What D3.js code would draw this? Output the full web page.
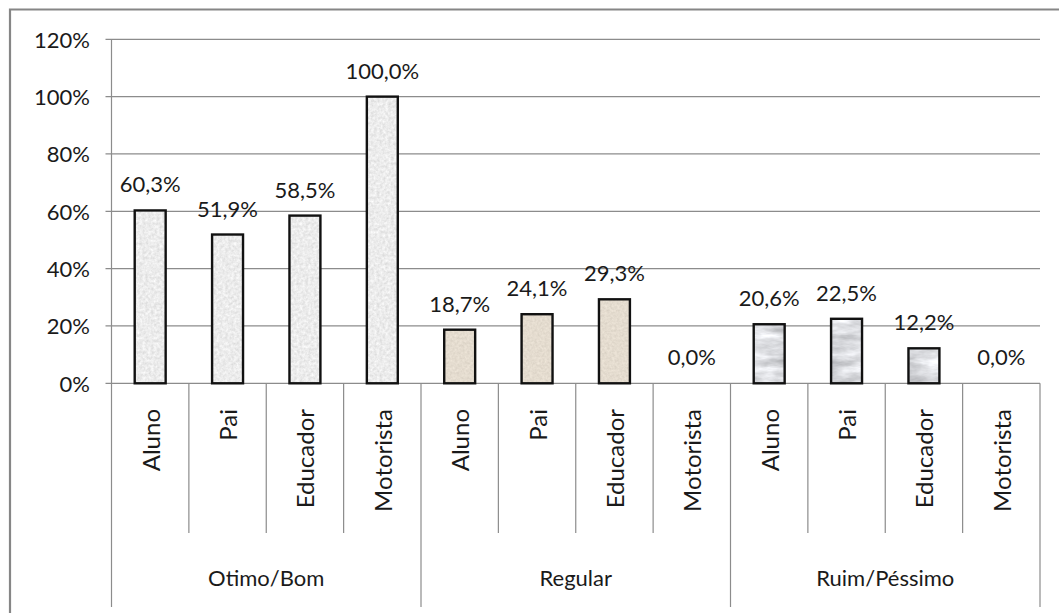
<!DOCTYPE html>
<html>
<head>
<meta charset="utf-8">
<script src="https://cdn.jsdelivr.net/npm/d3@7"></script>
<style>
  html, body { margin: 0; padding: 0; background: #fff; }
  svg { display: block; }
  text { font-family: "Lato", "Noto Sans", sans-serif; fill: #1a1a1a; }
</style>
</head>
<body>
<svg id="chart" width="1059" height="613"></svg>
<script>
// Avaliação por grupo de respondentes
const groups = ["Otimo/Bom", "Regular", "Ruim/Péssimo"];
const roles = ["Aluno", "Pai", "Educador", "Motorista"];
const otimoBom = [60.3, 51.9, 58.5, 100.0];
const regular = [18.7, 24.1, 29.3, 0.0];
const ruimPessimo = [20.6, 22.5, 12.2, 0.0];
const yTicks = [0, 20, 40, 60, 80, 100, 120];

const seriesValues = [otimoBom, regular, ruimPessimo];
const textures = ["tex-granite", "tex-sand", "tex-marble"];

const rows = [];
groups.forEach((g, gi) => {
  roles.forEach((r, ri) => {
    rows.push({ key: g + "|" + r, group: g, role: r, value: seriesValues[gi][ri], tex: textures[gi] });
  });
});

const svg = d3.select("#chart");
const plot = { left: 111.5, right: 1040, top: 39.3, bottom: 383.3 };

const x = d3.scaleBand().domain(rows.map(d => d.key)).range([plot.left, plot.right]).padding(0);
const y = d3.scaleLinear().domain([0, 120]).range([plot.bottom, plot.top]);
const fmt = v => d3.format(".1f")(v).replace(".", ",") + "%";

// Bar fill textures
const defs = svg.append("defs");
function texture(id, freq, octaves, seed, base, amp) {
  const f = defs.append("filter").attr("id", id)
    .attr("x", 0).attr("y", 0).attr("width", 1).attr("height", 1)
    .attr("color-interpolation-filters", "sRGB");
  f.append("feTurbulence").attr("type", "fractalNoise")
    .attr("baseFrequency", freq).attr("numOctaves", octaves).attr("seed", seed).attr("result", "noise");
  const m = [
    amp, 0, 0, 0, base[0] - amp * 0.5,
    amp, 0, 0, 0, base[1] - amp * 0.5,
    amp, 0, 0, 0, base[2] - amp * 0.5,
    0, 0, 0, 0, 1
  ];
  f.append("feColorMatrix").attr("type", "matrix").attr("values", m.join(" ")).attr("result", "tint");
  f.append("feComposite").attr("in", "tint").attr("in2", "SourceGraphic").attr("operator", "in");
}
texture("tex-granite", 0.35, 3, 4, [0.925, 0.925, 0.925], 0.18);
texture("tex-sand", 0.4, 2, 7, [0.895, 0.862, 0.812], 0.12);
texture("tex-marble", "0.04 0.12", 4, 11, [0.86, 0.865, 0.88], 0.4);

// Outer frame
svg.append("path")
  .attr("d", `M10,613 V9.5 H1059`)
  .attr("fill", "none").attr("stroke", "#868686").attr("stroke-width", 2.2);

// Gridlines and y ticks
svg.append("g").selectAll("line").data(yTicks).join("line")
  .attr("x1", plot.left - 6).attr("x2", plot.right)
  .attr("y1", d => y(d)).attr("y2", d => y(d))
  .attr("stroke", "#8c8c8c").attr("stroke-width", 1.2);

svg.append("g").selectAll("text").data(yTicks).join("text")
  .attr("x", 90).attr("y", d => y(d))
  .attr("text-anchor", "end").attr("dominant-baseline", "central")
  .attr("font-size", 22)
  .text(d => d + "%");

// Y axis line
svg.append("line")
  .attr("x1", plot.left).attr("x2", plot.left)
  .attr("y1", plot.top).attr("y2", plot.bottom)
  .attr("stroke", "#8c8c8c").attr("stroke-width", 1.2);

// Category separators: short between roles, long between groups
const seps = [];
rows.forEach((d, i) => {
  const isGroupEdge = i % roles.length === 0;
  seps.push({ x: x(d.key), long: isGroupEdge });
});
seps.push({ x: plot.right, long: true });
svg.append("g").selectAll("line").data(seps).join("line")
  .attr("x1", d => d.x).attr("x2", d => d.x)
  .attr("y1", plot.bottom).attr("y2", d => d.long ? 607 : 533)
  .attr("stroke", "#8c8c8c").attr("stroke-width", 1.2);

// Bars
const barW = x.bandwidth() * 0.4;
const bars = svg.append("g").selectAll("g").data(rows.filter(d => d.value > 0)).join("g");
bars.append("rect")
  .attr("x", d => x(d.key) + (x.bandwidth() - barW) / 2)
  .attr("y", d => y(d.value))
  .attr("width", barW)
  .attr("height", d => y(0) - y(d.value))
  .attr("fill", "#000")
  .attr("filter", d => `url(#${d.tex})`);
bars.append("rect")
  .attr("x", d => x(d.key) + (x.bandwidth() - barW) / 2)
  .attr("y", d => y(d.value))
  .attr("width", barW)
  .attr("height", d => y(0) - y(d.value))
  .attr("fill", "none").attr("stroke", "#111").attr("stroke-width", 2.4);

// Value labels
svg.append("g").selectAll("text").data(rows).join("text")
  .attr("x", d => x(d.key) + x.bandwidth() / 2)
  .attr("y", d => y(d.value) - 18)
  .attr("text-anchor", "middle")
  .attr("font-size", 22)
  .text(d => fmt(d.value));

// Role labels (rotated)
svg.append("g").selectAll("text").data(rows).join("text")
  .attr("transform", d => `translate(${x(d.key) + x.bandwidth() / 2},409) rotate(-90)`)
  .attr("text-anchor", "end").attr("dominant-baseline", "central")
  .attr("font-size", 24)
  .text(d => d.role);

// Group labels
svg.append("g").selectAll("text").data(groups).join("text")
  .attr("x", g => (x(g + "|" + roles[0]) + x(g + "|" + roles[roles.length - 1]) + x.bandwidth()) / 2)
  .attr("y", 577)
  .attr("text-anchor", "middle").attr("dominant-baseline", "central")
  .attr("font-size", 22)
  .text(g => g);
</script>
</body>
</html>
